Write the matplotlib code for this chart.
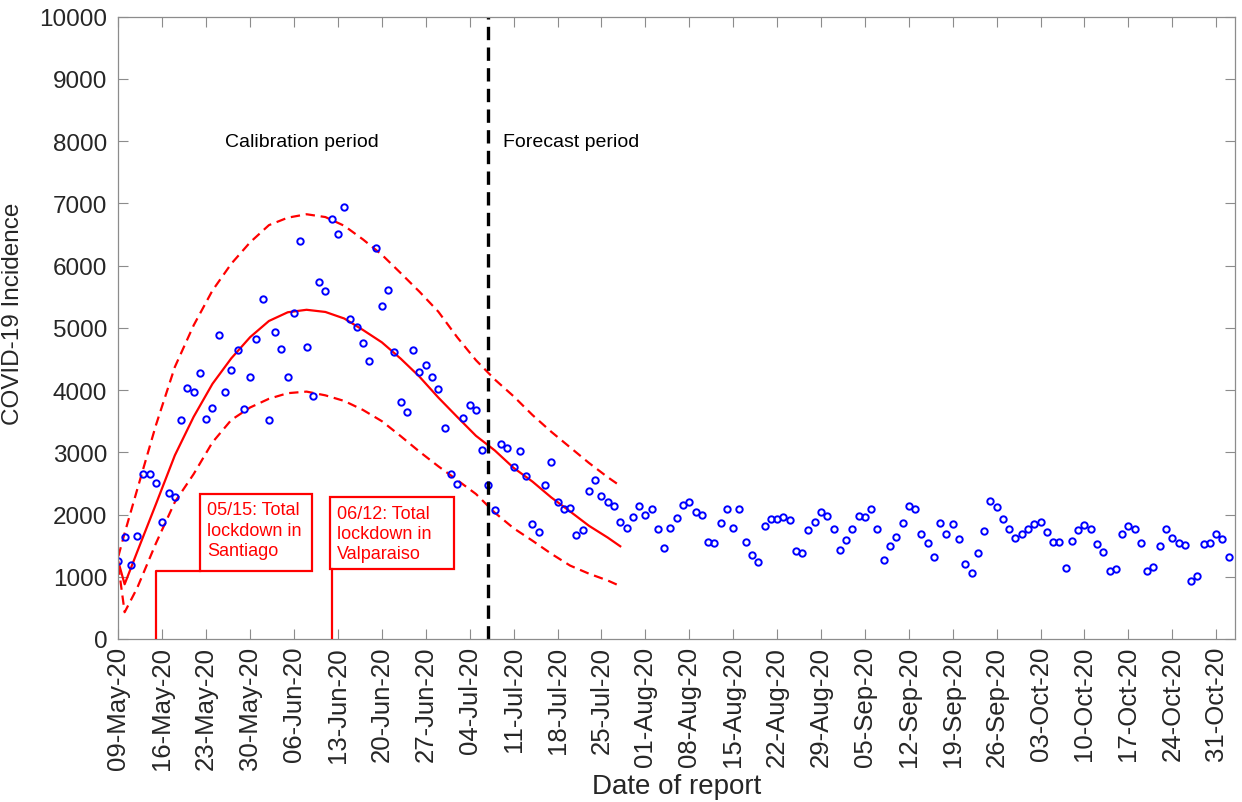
import datetime as dt
import matplotlib
matplotlib.use("Agg")
import matplotlib.pyplot as plt
import matplotlib.dates as mdates
from matplotlib.patches import Rectangle

plt.rcParams['font.family'] = ['Liberation Sans', 'DejaVu Sans']

# Datos: incidencia diaria reportada desde 09-May-20
inicio = dt.datetime(2020, 5, 9)
incidencia = [
    1248, 1644, 1194, 1660, 2656, 2656, 2501, 1885, 2351, 2276,
    3519, 4038, 3963, 4274, 3535, 3706, 4890, 3963, 4327, 4648,
    3690, 4215, 4825, 5468, 3524, 4938, 4664, 4209, 5243, 6400,
    4696, 3909, 5736, 5596, 6753, 6507, 6941, 5136, 5008, 4756,
    4472, 6288, 5355, 5607, 4611, 3808, 3647, 4648, 4295, 4407,
    4215, 4012, 3395, 2646, 2495, 3546, 3760, 3684, 3030, 2470,
    2070, 3140, 3070, 2760, 3015, 2620, 1845, 1715, 2475, 2845,
    2195, 2095, 2110, 1670, 1750, 2375, 2550, 2295, 2205, 2140,
    1885, 1780, 1955, 2135, 1990, 2085, 1770, 1465, 1785, 1950,
    2155, 2205, 2045, 1995, 1555, 1545, 1860, 2085, 1785, 2095,
    1565, 1345, 1240, 1820, 1925, 1925, 1955, 1910, 1410, 1380,
    1745, 1875, 2035, 1980, 1765, 1425, 1585, 1765, 1980, 1965,
    2085, 1770, 1270, 1490, 1640, 1865, 2140, 2090, 1690, 1545,
    1315, 1865, 1680, 1855, 1610, 1200, 1065, 1375, 1735, 2225,
    2115, 1930, 1775, 1625, 1680, 1760, 1845, 1885, 1715, 1565,
    1560, 1140, 1575, 1750, 1825, 1775, 1520, 1400, 1090, 1125,
    1695, 1815, 1760, 1550, 1095, 1160, 1495, 1775, 1630, 1545,
    1515, 925, 1010, 1520, 1535, 1690, 1610, 1320,
]

# Ajuste del modelo (media e intervalo) en dias desde el inicio
dias_ajuste = [0, 1, 3, 6, 9, 12, 15, 18, 21, 24, 27, 30, 33, 36, 39,
               42, 45, 48, 51, 54, 57, 60, 63, 66, 69, 72, 75, 78, 80]
ajuste_media = [1240, 880, 1400, 2170, 2950, 3570, 4100, 4510, 4850, 5110,
                5250, 5290, 5255, 5150, 4965, 4767, 4505, 4215, 3880, 3570,
                3265, 3030, 2750, 2530, 2275, 2050, 1820, 1630, 1490]
ajuste_sup = [1330, 1700, 2400, 3440, 4370, 5040, 5600, 6030, 6374, 6650,
              6770, 6825, 6780, 6640, 6420, 6175, 5880, 5580, 5260, 4850,
              4480, 4170, 3900, 3600, 3330, 3080, 2830, 2600, 2460]
ajuste_inf = [1180, 430, 820, 1540, 2200, 2650, 3160, 3520, 3720, 3860,
              3950, 3975, 3915, 3825, 3680, 3500, 3260, 3010, 2775, 2555,
              2330, 2030, 1780, 1580, 1370, 1180, 1050, 940, 850]

lockdowns = [dt.datetime(2020, 5, 15), dt.datetime(2020, 6, 12)]
textos_lockdown = ["05/15: Total\nlockdown in\nSantiago",
                   "06/12: Total\nlockdown in\nValparaiso"]
inicio_pronostico = dt.datetime(2020, 7, 7)

fechas = [inicio + dt.timedelta(days=i) for i in range(len(incidencia))]
fechas_ajuste = [inicio + dt.timedelta(days=d) for d in dias_ajuste]

fig = plt.figure(figsize=(12.42, 8.03), dpi=100)
ax = fig.add_axes([0.0953, 0.203, 0.8991, 0.775])

ax.plot(fechas_ajuste, ajuste_media, color='red', lw=1.6)
ax.plot(fechas_ajuste, ajuste_sup, color='red', lw=1.6, dashes=(4.2, 2.6))
ax.plot(fechas_ajuste, ajuste_inf, color='red', lw=1.6, dashes=(4.2, 2.6))

ax.plot(fechas, incidencia, 'o', ls='none', mfc='none', mec='blue',
        ms=4.6, mew=1.4)

ax.axvline(inicio_pronostico, color='black', lw=2.4, dashes=(4.0, 2.2))

x0 = mdates.date2num(inicio)

# Cajas de las cuarentenas (posicion en dias desde el inicio)
cajas = [(13.0, 1088, 17.8, 1242), (33.7, 1125, 19.8, 1152)]
for (cx, cy, cw, ch), texto in zip(cajas, textos_lockdown):
    ax.add_patch(Rectangle((x0 + cx, cy), cw, ch, fc='white', ec='red',
                           lw=1.6, zorder=3))
    ax.text(x0 + cx + 1.1, cy + ch - 120, texto, color='red', fontsize=13,
            va='top', ha='left', linespacing=1.25, zorder=4)

ax.plot([lockdowns[0], lockdowns[0], inicio + dt.timedelta(days=13.0)],
        [0, 1088, 1088], color='red', lw=1.6, zorder=3)
ax.plot([lockdowns[1], lockdowns[1]], [0, 1125], color='red', lw=1.6,
        zorder=3)

ax.text(x0 + 17.0, 8000, "Calibration period", fontsize=14, va='center')
ax.text(x0 + 61.3, 8000, "Forecast period", fontsize=14, va='center')

ax.set_xlim(inicio, inicio + dt.timedelta(days=178))
ax.set_ylim(0, 10000)
ax.set_yticks(range(0, 10001, 1000))
ax.set_xticks([inicio + dt.timedelta(days=7 * k) for k in range(26)])
ax.xaxis.set_major_formatter(mdates.DateFormatter('%d-%b-%y'))
plt.setp(ax.get_xticklabels(), rotation=90)

ax.tick_params(direction='in', length=7, width=0.8, color='#8c8c8c',
               labelcolor='#262626', top=True, right=True)
ax.tick_params(axis='x', labelsize=18.5, pad=5)
ax.tick_params(axis='y', labelsize=17.5, pad=8)
for s in ax.spines.values():
    s.set_color('#8c8c8c')
    s.set_linewidth(0.9)

ax.set_xlabel("Date of report", fontsize=20, color='#262626', labelpad=3)
ax.set_ylabel("COVID-19 Incidence", fontsize=17.5, color='#262626')
ax.yaxis.set_label_coords(-0.0845, 0.524)

fig.savefig("out.png", dpi=100)
